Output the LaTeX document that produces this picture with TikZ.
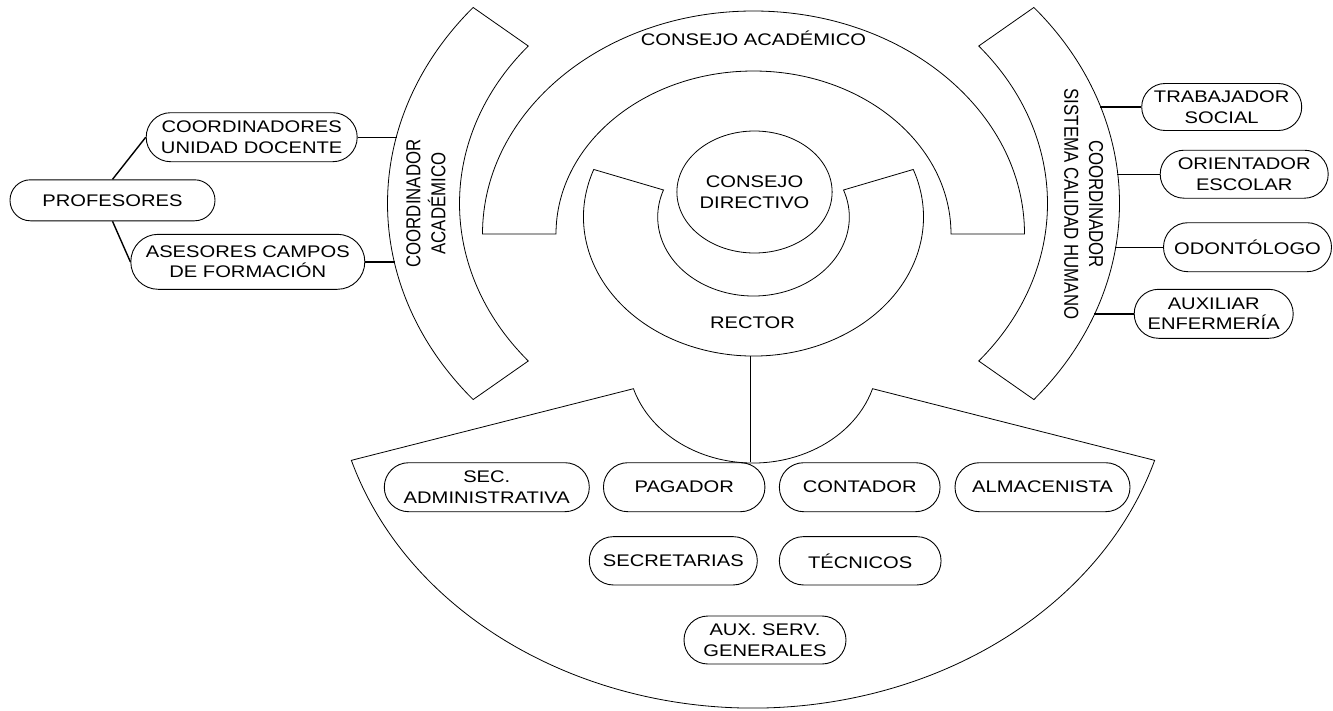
\documentclass[tikz,border=0pt]{standalone}
\usepackage{graphicx}
\usepackage{fontspec}
\setmainfont{Liberation Sans}[FakeStretch=1.2]
\newfontfamily\plainsans{Liberation Sans}
\usetikzlibrary{shapes.geometric}
\tikzset{
  band/.style={draw, line width=0.8pt},
  txt/.style={font=\fontsize{16.8}{20.5}\selectfont, inner sep=0pt, align=center},
  rot/.style={font=\plainsans\fontsize{16.8}{20.5}\selectfont, inner sep=0pt},
  pill/.style n args={3}{draw, line width=0.9pt, rectangle, rounded corners=#3pt,
     minimum width=#1pt, minimum height=#2pt, txt},
  link/.style={line width=1.4pt},
}
\begin{document}
\begin{tikzpicture}[x=1pt,y=1pt]
\fill[white] (0,0) rectangle (1333,-710);
\useasboundingbox (0,0) rectangle (1333,-710);

% Consejo academico band
\draw[band] (482.5,-234) arc[start angle=180,end angle=0,x radius=271,y radius=223]
  -- (951,-234) arc[start angle=0,end angle=180,x radius=197.5,y radius=163] -- cycle;
% Rector band
\draw[band] ([shift={(753.5,-217)}]160:170 and 139)
  arc[start angle=160,end angle=380,x radius=170,y radius=139]
  -- ([shift={(753.5,-217)}]20:95.8 and 79)
  arc[start angle=20,end angle=-200,x radius=95.8,y radius=79] -- cycle;
% Coordinador academico band
\draw[band] ([shift={(753.5,-203.5)}]140:366 and 305)
  arc[start angle=140,end angle=220,x radius=366,y radius=305]
  -- ([shift={(753.5,-203.5)}]220:294 and 245)
  arc[start angle=220,end angle=140,x radius=294,y radius=245] -- cycle;
% Coordinador sistema calidad humano band
\draw[band] ([shift={(753.5,-203.5)}]-40:366 and 305)
  arc[start angle=-40,end angle=40,x radius=366,y radius=305]
  -- ([shift={(753.5,-203.5)}]40:294 and 245)
  arc[start angle=40,end angle=-40,x radius=294,y radius=245] -- cycle;
% Administrative fan
\draw[band] ([shift={(753,-358)}]197:420 and 350)
  arc[start angle=197,end angle=343,x radius=420,y radius=350]
  -- ([shift={(753,-358)}]343:125 and 105)
  arc[start angle=343,end angle=197,x radius=125,y radius=105] -- cycle;

% Labels of bands
\node[txt] (acad) at (753.5,-38.5) {CONSEJO ACADÉMICO};
\node[txt] (rector) at (752.5,-323) {RECTOR};
\node[draw, ellipse, line width=0.8pt, minimum width=146pt, minimum height=122pt, txt]
  (directivo) at (754.5,-192) {CONSEJO\\DIRECTIVO};
\node[rot, rotate=90] (coordacad) at (428,-203.5)
  {\scalebox{1}[1.2]{\begin{tabular}{@{}c@{}}COORDINADOR\\ACADÉMICO\end{tabular}}};
\node[rot, rotate=-90] (coordsis) at (1081.7,-204)
  {\scalebox{1}[1.2]{\begin{tabular}{@{}c@{}}COORDINADOR\\SISTEMA CALIDAD HUMANO\end{tabular}}};

% Left nodes
\node[pill={205}{41}{20.4}] (prof) at (112.5,-200.3) {PROFESORES};
\node[pill={211}{49}{24.4}] (coord) at (251.7,-137.2) {COORDINADORES\\UNIDAD DOCENTE};
\node[pill={234}{55}{27.4}] (ases) at (247.8,-261.8) {ASESORES CAMPOS\\DE FORMACIÓN};

% Right nodes
\node[pill={160}{47}{23.4}] (trab) at (1221.7,-107) {TRABAJADOR\\SOCIAL};
\node[pill={168}{48}{23.9}] (orie) at (1244.2,-174.2) {ORIENTADOR\\ESCOLAR};
\node[pill={168}{49}{24.4}] (odon) at (1247.5,-247.2) {ODONTÓLOGO};
\node[pill={159}{49}{24.4}] (auxe) at (1213.7,-313.8) {AUXILIAR\\ENFERMERÍA};

% Bottom nodes
\node[pill={205}{49}{24.4}] (sec) at (486.8,-487.2) {SEC.\\ADMINISTRATIVA};
\node[pill={161.5}{49}{24.4}] (pag) at (684.2,-487.2) {PAGADOR};
\node[pill={160.7}{49}{24.4}] (cont) at (859.7,-487.2) {CONTADOR};
\node[pill={175}{49}{24.4}] (alma) at (1042.5,-487.2) {ALMACENISTA};
\node[pill={168}{48.3}{24}] (secr) at (673.3,-560.8) {SECRETARIAS};
\node[pill={161.7}{48.3}{24}] (tecn) at (860.2,-560.8) {TÉCNICOS};
\node[pill={162}{48}{23.9}] (auxs) at (765,-640) {AUX. SERV.\\GENERALES};

% Connector end points on the arcs
\coordinate (ca1) at (396.6,-137.2);
\coordinate (ca2) at (394.6,-261.8);
\coordinate (cs1) at (1100.3,-107);
\coordinate (cs2) at (1117.4,-174.2);
\coordinate (cs3) at (1115.3,-247.2);
\coordinate (cs4) at (1094.3,-313.8);
\coordinate (rb) at (750.5,-356);

% Connectors
\draw[link] (prof.north) -- (coord.west);
\draw[link] (prof.south) -- (ases.west);
\draw[link] (coord.east) -- (ca1);
\draw[link] (ases.east) -- (ca2);
\draw[link] (cs1) -- (trab.west);
\draw[link] (cs2) -- (orie.west);
\draw[link] (cs3) -- (odon.west);
\draw[link] (cs4) -- (auxe.west);
\draw[link] (rb) -- (rb |- pag.north);
\end{tikzpicture}
\end{document}
